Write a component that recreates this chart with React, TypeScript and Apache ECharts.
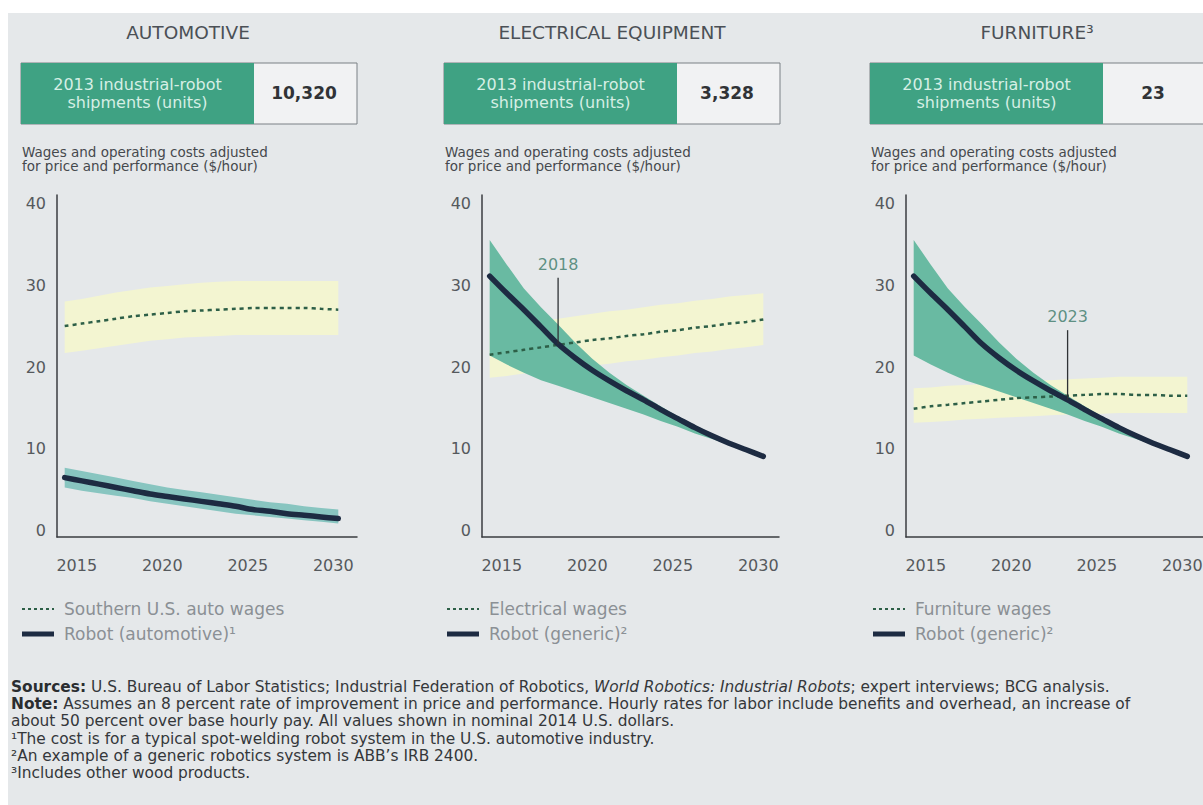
import React, { useEffect, useRef } from 'react';
import * as echarts from 'echarts';

// ---- data ----
const YEARS = [2014, 2015, 2016, 2017, 2018, 2019, 2020, 2021, 2022, 2023, 2024, 2025, 2026, 2027, 2028, 2029, 2030];
const Y_TICKS = [0, 10, 20, 30, 40];
const X_TICKS = [2015, 2020, 2025, 2030];

const SECTORS = ['AUTOMOTIVE', 'ELECTRICAL EQUIPMENT', 'FURNITURE³'];
const SHIPMENTS_2013 = ['10,320', '3,328', '23'];
const WAGE_NAMES = ['Southern U.S. auto wages', 'Electrical wages', 'Furniture wages'];
const ROBOT_NAMES = ['Robot (automotive)¹', 'Robot (generic)²', 'Robot (generic)²'];

// automotive ($/hour)
const AUTO_WAGE = [25.0, 25.3, 25.6, 25.9, 26.2, 26.4, 26.6, 26.8, 26.9, 27.0, 27.1, 27.2, 27.2, 27.2, 27.2, 27.1, 27.0];
const AUTO_WAGE_HIGH = [28.0, 28.3, 28.7, 29.1, 29.4, 29.7, 29.9, 30.1, 30.3, 30.4, 30.5, 30.5, 30.5, 30.5, 30.5, 30.5, 30.5];
const AUTO_WAGE_LOW = [21.7, 22.0, 22.3, 22.6, 22.9, 23.2, 23.4, 23.6, 23.7, 23.8, 23.9, 23.9, 23.9, 23.9, 23.9, 23.9, 23.9];
const AUTO_ROBOT = [6.5, 6.1, 5.7, 5.3, 4.9, 4.5, 4.2, 3.9, 3.6, 3.3, 3.0, 2.6, 2.4, 2.1, 1.9, 1.7, 1.5];
const AUTO_ROBOT_HIGH = [7.7, 7.3, 6.9, 6.5, 6.1, 5.7, 5.3, 5.0, 4.7, 4.4, 4.1, 3.8, 3.5, 3.3, 3.0, 2.8, 2.6];
const AUTO_ROBOT_LOW = [5.3, 4.9, 4.6, 4.3, 4.0, 3.6, 3.3, 3.0, 2.7, 2.4, 2.1, 1.9, 1.7, 1.5, 1.3, 1.1, 0.9];

// electrical equipment
const ELEC_WAGE = [21.5, 21.8, 22.1, 22.4, 22.7, 23.0, 23.3, 23.5, 23.8, 24.0, 24.3, 24.5, 24.8, 25.0, 25.3, 25.5, 25.8];
const ELEC_WAGE_HIGH = [24.7, 25.0, 25.3, 25.6, 25.9, 26.2, 26.5, 26.8, 27.0, 27.3, 27.6, 27.8, 28.1, 28.3, 28.6, 28.8, 29.0];
const ELEC_WAGE_LOW = [18.7, 18.9, 19.2, 19.4, 19.7, 19.9, 20.2, 20.4, 20.7, 20.9, 21.2, 21.4, 21.7, 21.9, 22.2, 22.4, 22.7];

// furniture
const FURN_WAGE = [14.9, 15.2, 15.4, 15.6, 15.8, 16.0, 16.2, 16.3, 16.4, 16.5, 16.6, 16.7, 16.7, 16.6, 16.6, 16.5, 16.5];
const FURN_WAGE_HIGH = [17.4, 17.5, 17.7, 17.8, 17.9, 18.1, 18.2, 18.3, 18.4, 18.5, 18.6, 18.7, 18.8, 18.8, 18.8, 18.8, 18.8];
const FURN_WAGE_LOW = [13.2, 13.3, 13.4, 13.6, 13.7, 13.8, 13.9, 14.0, 14.1, 14.2, 14.3, 14.3, 14.4, 14.4, 14.4, 14.4, 14.4];

// generic robot system (electrical equipment and furniture)
const GENERIC_ROBOT = [31.1, 29.0, 27.0, 24.9, 22.8, 21.1, 19.6, 18.3, 17.1, 16.0, 14.8, 13.7, 12.6, 11.6, 10.7, 9.9, 9.1];
const GENERIC_ROBOT_HIGH = [35.5, 32.5, 29.6, 27.3, 25.2, 23.0, 21.0, 19.3, 17.8, 16.5, 15.2, 14.0, 12.9, 11.9, 10.9, 10.0, 9.2];
const GENERIC_ROBOT_LOW = [21.4, 20.3, 19.3, 18.4, 17.7, 17.0, 16.3, 15.6, 14.9, 14.2, 13.4, 12.7, 11.9, 11.2, 10.5, 9.8, 9.0];

// break-even call-outs
const BREAK_EVEN_PANEL = [1, 2];
const BREAK_EVEN_YEAR = [2018, 2023];
const BREAK_EVEN_TOP = [30.9, 24.5];

const FOOTNOTES = [
  '{b|Sources:} U.S. Bureau of Labor Statistics; Industrial Federation of Robotics, {i|World Robotics: Industrial Robots}; expert interviews; BCG analysis.',
  '{b|Note:} Assumes an 8 percent rate of improvement in price and performance. Hourly rates for labor include benefits and overhead, an increase of',
  'about 50 percent over base hourly pay. All values shown in nominal 2014 U.S. dollars.',
  '¹The cost is for a typical spot-welding robot system in the U.S. automotive industry.',
  '²An example of a generic robotics system is ABB’s IRB 2400.',
  '³Includes other wood products.',
];

// ---- styling / layout ----
const BG = '#e5e8ea';
const YELLOW = '#f3f5d1';
const GREEN_BAND = ['#88c5c0', '#69baa2', '#69baa2'];
const BOX_GREEN = '#3fa283';
const ROBOT_COLOR = '#1d2b42';
const WAGE_COLOR = '#2d5f47';
const FONT = 'DejaVu Sans';

const PANEL_DATA = [
  { wage: AUTO_WAGE, wHi: AUTO_WAGE_HIGH, wLo: AUTO_WAGE_LOW, robot: AUTO_ROBOT, rHi: AUTO_ROBOT_HIGH, rLo: AUTO_ROBOT_LOW },
  { wage: ELEC_WAGE, wHi: ELEC_WAGE_HIGH, wLo: ELEC_WAGE_LOW, robot: GENERIC_ROBOT, rHi: GENERIC_ROBOT_HIGH, rLo: GENERIC_ROBOT_LOW },
  { wage: FURN_WAGE, wHi: FURN_WAGE_HIGH, wLo: FURN_WAGE_LOW, robot: GENERIC_ROBOT, rHi: GENERIC_ROBOT_HIGH, rLo: GENERIC_ROBOT_LOW },
];

const GRID_LEFT = [49, 474, 898];
const GRID_WIDTH = [300, 297, 297];
const BOX_LEFT = [13, 436, 862];
const TITLE_X = [180, 604, 1029];
const LEGEND_X = [14, 439, 865];

const pairs = (ys: number[]) => YEARS.map((y, i) => [y, ys[i]]);

// filled range between two curves, drawn as one polygon in data coordinates
function bandSeries(i: number, hi: number[], lo: number[], color: string, z: number) {
  return {
    type: 'custom', xAxisIndex: i, yAxisIndex: i, silent: true, z,
    data: YEARS.map((y, k) => [y, hi[k], lo[k]]),
    encode: { x: 0, y: [1, 2] },
    renderItem: (params: any, api: any) => {
      if (params.dataIndex !== 0) return null;
      const top = YEARS.map((y, k) => api.coord([y, hi[k]]));
      const bottom = YEARS.map((y, k) => api.coord([y, lo[k]])).reverse();
      return { type: 'polygon', shape: { points: top.concat(bottom) }, style: { fill: color } };
    },
  };
}

function buildOption() {
  const grid: any[] = [];
  const xAxis: any[] = [];
  const yAxis: any[] = [];
  const series: any[] = [];
  const graphic: any[] = [];

  PANEL_DATA.forEach((p, i) => {
    grid.push({ left: GRID_LEFT[i], width: GRID_WIDTH[i], top: 182, height: 342, containLabel: false, outerBoundsMode: 'none' });
    xAxis.push({
      type: 'value', gridIndex: i, min: 2013.55, max: 2013.55 + GRID_WIDTH[i] / 17.1,
      splitLine: { show: false }, axisTick: { show: false },
      axisLine: { show: true, onZero: false, lineStyle: { color: '#3a3d40', width: 1.5 } },
      axisLabel: {
        customValues: X_TICKS, formatter: (v: number) => String(v), margin: 20,
        color: '#55595d', fontSize: 16, fontFamily: FONT, padding: [0, 10, 0, 0],
      },
    });
    yAxis.push({
      type: 'value', gridIndex: i, min: -0.75, max: 41,
      splitLine: { show: false }, axisTick: { show: false },
      axisLine: { show: true, onZero: false, lineStyle: { color: '#3a3d40', width: 1.5 } },
      axisLabel: { customValues: Y_TICKS, margin: 11, color: '#55595d', fontSize: 16, fontFamily: FONT },
    });

    const common = { xAxisIndex: i, yAxisIndex: i, symbol: 'none', silent: true, smooth: 0.3 };
    series.push(bandSeries(i, p.wHi, p.wLo, YELLOW, 1));
    series.push(bandSeries(i, p.rHi, p.rLo, GREEN_BAND[i], 2));
    series.push({ ...common, type: 'line', name: WAGE_NAMES[i], data: pairs(p.wage), lineStyle: { color: WAGE_COLOR, width: 2.5, type: [4, 4] }, z: 3 });
    series.push({ ...common, type: 'line', name: ROBOT_NAMES[i], data: pairs(p.robot), lineStyle: { color: ROBOT_COLOR, width: 5.5, cap: 'round' }, z: 4 });

    // sector title
    graphic.push({
      type: 'text', x: TITLE_X[i], y: 19,
      style: { text: SECTORS[i], fill: '#4b5056', fontSize: 18.5, fontFamily: FONT, textAlign: 'center', textVerticalAlign: 'middle' },
    });
    // shipments box
    const bx = BOX_LEFT[i];
    graphic.push({ type: 'rect', shape: { x: bx, y: 50, width: i === 2 ? 334 : 336, height: 61 }, style: { fill: '#f1f2f3', stroke: '#7b8085', lineWidth: 1 } });
    graphic.push({ type: 'rect', shape: { x: bx, y: 50, width: 233, height: 61 }, style: { fill: BOX_GREEN } });
    graphic.push({
      type: 'text', x: bx + 116.5, y: 80.5,
      style: {
        text: '2013 industrial-robot\nshipments (units)', fill: '#d6efe5', fontSize: 16, lineHeight: 17.5,
        fontFamily: FONT, textAlign: 'center', textVerticalAlign: 'middle',
      },
    });
    graphic.push({
      type: 'text', x: bx + 283, y: 80,
      style: { text: SHIPMENTS_2013[i], fill: '#303336', fontSize: 17, fontWeight: 'bold', fontFamily: FONT, textAlign: 'center', textVerticalAlign: 'middle' },
    });
    // value-axis title
    graphic.push({
      type: 'text', x: bx + 1, y: 146,
      style: {
        text: 'Wages and operating costs adjusted\nfor price and performance ($/hour)', fill: '#45494d',
        fontSize: 13.5, lineHeight: 14.5, fontFamily: FONT, textAlign: 'left', textVerticalAlign: 'middle',
      },
    });
    // legend
    const lx = LEGEND_X[i];
    graphic.push({ type: 'line', shape: { x1: lx, y1: 596, x2: lx + 32, y2: 596 }, style: { stroke: WAGE_COLOR, lineWidth: 2, lineDash: [3, 3] } });
    graphic.push({
      type: 'text', x: lx + 42, y: 596,
      style: { text: WAGE_NAMES[i], fill: '#8b9095', fontSize: 17, fontFamily: FONT, textAlign: 'left', textVerticalAlign: 'middle' },
    });
    graphic.push({ type: 'rect', shape: { x: lx, y: 618.5, width: 32, height: 5 }, style: { fill: ROBOT_COLOR } });
    graphic.push({
      type: 'text', x: lx + 42, y: 621,
      style: { text: ROBOT_NAMES[i], fill: '#8b9095', fontSize: 17, fontFamily: FONT, textAlign: 'left', textVerticalAlign: 'middle' },
    });
  });

  // break-even leaders and year labels
  BREAK_EVEN_PANEL.forEach((pi, k) => {
    const yr = BREAK_EVEN_YEAR[k];
    const robotAtYear = PANEL_DATA[pi].robot[YEARS.indexOf(yr)];
    series.push({
      type: 'line', xAxisIndex: pi, yAxisIndex: pi, symbol: 'none', silent: true, z: 5,
      data: [[yr, robotAtYear], [yr, BREAK_EVEN_TOP[k]]],
      lineStyle: { color: '#2f3235', width: 1.3 },
    });
    series.push({
      type: 'scatter', xAxisIndex: pi, yAxisIndex: pi, silent: true, z: 5, symbolSize: 1,
      itemStyle: { color: 'rgba(0,0,0,0)' },
      data: [[yr, BREAK_EVEN_TOP[k]]],
      label: { show: true, position: 'top', distance: 5, formatter: String(yr), color: '#3a7868', fontSize: 16, fontFamily: FONT },
    });
  });

  // footnotes block
  graphic.push({
    type: 'text', x: 3, y: 665.4,
    style: {
      text: FOOTNOTES.join('\n'), fill: '#34373a', fontSize: 15.4, lineHeight: 17.2, fontFamily: FONT,
      textAlign: 'left', textVerticalAlign: 'top',
      rich: {
        b: { fontWeight: 'bold', fontSize: 15.4, lineHeight: 17.2, fontFamily: FONT, fill: '#2a2d30' },
        i: { fontStyle: 'italic', fontSize: 15.4, lineHeight: 17.2, fontFamily: FONT, fill: '#34373a' },
      },
    },
  });

  return {
    animation: false,
    backgroundColor: BG,
    grid, xAxis, yAxis, series, graphic,
  };
}

export default function App() {
  const ref = useRef<HTMLDivElement>(null);
  useEffect(() => {
    const chart = echarts.init(ref.current!, null, { renderer: 'svg' });
    chart.setOption(buildOption() as any);
    return () => chart.dispose();
  }, []);
  return (
    <div
      ref={ref}
      style={{ position: 'absolute', left: 8, top: 13, width: 1195, height: 792, background: BG }}
    />
  );
}
